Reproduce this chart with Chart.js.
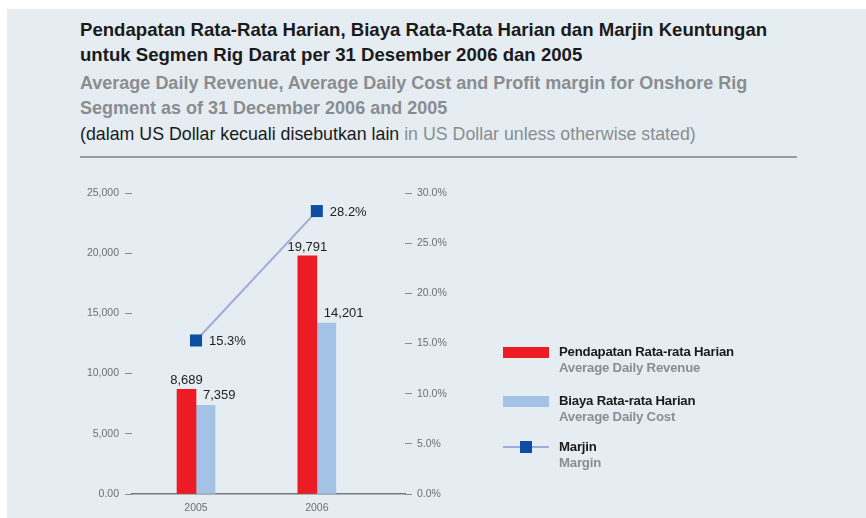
<!DOCTYPE html>
<html>
<head>
<meta charset="utf-8">
<script src="https://cdn.jsdelivr.net/npm/chart.js"></script>
<style>
  html, body { margin: 0; padding: 0; background: #fff; }
  #panel { position: absolute; left: 7px; top: 9px; width: 859px; height: 509px; background: #e5edf3; overflow: hidden; }
  #titles { position: absolute; left: 73px; top: 8px; font-family: 'Liberation Sans', Arial, sans-serif; }
  .t1 { font-size: 18.6px; line-height: 25px; color: #1a1a1a; font-weight: bold; letter-spacing: 0px; white-space: nowrap; }
  .t2 { font-size: 18px; line-height: 25px; color: #8a8d90; font-weight: bold; letter-spacing: 0px; margin-top: 4px; white-space: nowrap; }
  .t3 { font-size: 17.8px; line-height: 25px; color: #1a1a1a; margin-top: 1px; letter-spacing: 0px; white-space: nowrap; }
  .t3 span { color: #8a8d90; }
  #rule { position: absolute; left: 73px; top: 147px; width: 717px; height: 2px; background: #9b9ea0; }
  #chart { position: absolute; left: -7px; top: 161px; }
  #legend { position: absolute; left: 0; top: 0; font-family: 'Liberation Sans', Arial, sans-serif; }
  .item { position: absolute; left: 496px; }
  .sw { position: absolute; left: 0; width: 46px; height: 11px; }
  .name { position: absolute; left: 56px; white-space: nowrap; font-size: 13.2px; font-weight: bold; color: #1a1a1a; letter-spacing: -0.2px; }
  .en { position: absolute; left: 56px; white-space: nowrap; font-size: 13.2px; font-weight: bold; color: #8b8d8f; letter-spacing: -0.2px; }
</style>
</head>
<body>
<div id="panel">
  <div id="titles">
    <div class="t1">Pendapatan Rata-Rata Harian, Biaya Rata-Rata Harian dan Marjin Keuntungan<br>untuk Segmen Rig Darat per 31 Desember 2006 dan 2005</div>
    <div class="t2">Average Daily Revenue, Average Daily Cost and Profit margin for Onshore Rig<br>Segment as of 31 December 2006 and 2005</div>
    <div class="t3">(dalam US Dollar kecuali disebutkan lain <span>in US Dollar unless otherwise stated)</span></div>
  </div>
  <div id="rule"></div>
  <canvas id="chart" width="866" height="348"></canvas>
  <div id="legend"></div>
</div>
<script>
const years = ['2005', '2006'];
const revenue = [8689, 19791];
const cost = [7359, 14201];
const margin = [15.3, 28.2];
const leftTicks = [0, 5000, 10000, 15000, 20000, 25000];
const rightTicks = [0, 5, 10, 15, 20, 25, 30];
const seriesNames = ['Pendapatan Rata-rata Harian', 'Biaya Rata-rata Harian', 'Marjin'];
const seriesNamesEn = ['Average Daily Revenue', 'Average Daily Cost', 'Margin'];

const RED = '#ed1c24';
const BLUE = '#a3c2e6';
const LINE = '#a3a9d9';
const MARK = '#0b4ea2';
const TICK_COLOR = '#6e7072';
const tickFont = { family: "'Liberation Sans', Arial, sans-serif", size: 10.5 };

// value labels above bars and beside margin points
const valueLabels = {
  id: 'valueLabels',
  afterDatasetsDraw(chart) {
    const ctx = chart.ctx;
    ctx.save();
    ctx.font = "13px 'Liberation Sans', Arial, sans-serif";
    ctx.fillStyle = '#222';
    chart.data.datasets.forEach((ds, di) => {
      const meta = chart.getDatasetMeta(di);
      meta.data.forEach((el, i) => {
        const v = ds.data[i];
        if (ds.type === 'line') {
          ctx.textAlign = 'left';
          ctx.textBaseline = 'middle';
          ctx.fillText(v.toFixed(1) + '%', el.x + 13, el.y + 1);
        } else if (di === 1) {
          ctx.textAlign = 'center';
          ctx.textBaseline = 'bottom';
          ctx.fillText(v.toLocaleString('en-US'), el.x, el.y - 2);
        } else {
          ctx.textAlign = 'left';
          ctx.textBaseline = 'bottom';
          ctx.fillText(v.toLocaleString('en-US'), el.x - el.width / 2 + 7, el.y - 3);
        }
      });
    });
    ctx.restore();
  }
};

const chart = new Chart(document.getElementById('chart'), {
  data: {
    labels: years,
    datasets: [
      {
        type: 'line',
        label: seriesNames[2],
        data: margin,
        yAxisID: 'y1',
        borderColor: LINE,
        borderWidth: 2,
        pointStyle: 'rect',
        pointRadius: 8.5,
        pointBackgroundColor: MARK,
        pointBorderWidth: 0,
        order: 0
      },
      {
        type: 'bar',
        label: seriesNames[0],
        data: revenue,
        backgroundColor: RED,
        barThickness: 19,
        yAxisID: 'y',
        order: 1
      },
      {
        type: 'bar',
        label: seriesNames[1],
        data: cost,
        backgroundColor: BLUE,
        barThickness: 19,
        yAxisID: 'y',
        order: 1
      }
    ]
  },
  options: {
    responsive: false,
    animation: false,
    devicePixelRatio: 1,
    layout: { padding: { left: 62, right: 401, top: 23, bottom: 0 } },
    plugins: { legend: { display: false }, tooltip: { enabled: false } },
    scales: {
      x: {
        type: 'linear',
        offset: false,
        min: 2004.47,
        max: 2006.73,
        afterBuildTicks: s => { s.ticks = years.map(y => ({ value: +y })); },
        afterFit: s => { s.height = 24; },
        ticks: { callback: v => String(v), color: TICK_COLOR, font: tickFont, padding: 8, maxRotation: 0 },
        grid: { display: false, drawTicks: false },
        border: { color: '#77797b', width: 1.5 }
      },
      y: {
        position: 'left',
        min: 0,
        max: 25000,
        afterBuildTicks: s => { s.ticks = leftTicks.map(v => ({ value: v })); },
        afterFit: s => { s.width = 70; },
        ticks: { callback: v => v === 0 ? '0.00' : v.toLocaleString('en-US'), color: TICK_COLOR, font: tickFont, padding: 6 },
        grid: { drawOnChartArea: false, tickLength: 7, tickColor: '#8a8c8e' },
        border: { display: false }
      },
      y1: {
        position: 'right',
        min: 0,
        max: 30,
        afterBuildTicks: s => { s.ticks = rightTicks.map(v => ({ value: v })); },
        afterFit: s => { s.width = 60; },
        ticks: { callback: v => v.toFixed(1) + '%', color: TICK_COLOR, font: tickFont, padding: 5 },
        grid: { drawOnChartArea: false, tickLength: 7, tickColor: '#8a8c8e' },
        border: { display: false }
      }
    }
  },
  plugins: [valueLabels]
});

// legend built from the series names and colours
const legend = document.getElementById('legend');
const legendRows = [
  { top: 338, swatch: RED, kind: 'bar' },
  { top: 387, swatch: BLUE, kind: 'bar' },
  { top: 433, swatch: LINE, kind: 'line' }
];
legendRows.forEach((row, i) => {
  const item = document.createElement('div');
  item.className = 'item';
  item.style.top = row.top + 'px';
  let sw;
  if (row.kind === 'bar') {
    sw = '<div class="sw" style="top:0;background:' + row.swatch + '"></div>';
  } else {
    sw = '<div class="sw" style="top:4px;height:2px;background:' + row.swatch + '"></div>' +
         '<div class="sw" style="top:-1px;left:17px;width:12px;height:12px;background:' + MARK + '"></div>';
  }
  item.innerHTML = sw +
    '<div class="name" style="top:-3px">' + seriesNames[i] + '</div>' +
    '<div class="en" style="top:13px">' + seriesNamesEn[i] + '</div>';
  legend.appendChild(item);
});
</script>
</body>
</html>
